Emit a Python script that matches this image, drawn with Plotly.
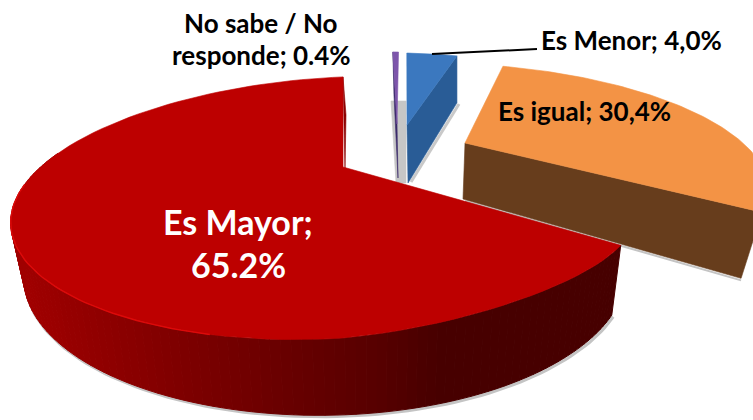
import math
import plotly.graph_objects as go

# ---- data (clockwise from the top) ----
categories = ["Es Menor", "Es igual", "Es Mayor", "No sabe / No responde"]
values = [4.0, 30.4, 65.2, 0.4]
value_labels = ["4,0%", "30,4%", "65.2%", "0.4%"]

# ---- projection of the pie into the picture ----
ROT = 1.44
A, B, K, M = 296.0, 118.0, 0.31, 0.06
FONT = "Lato"

# apex, screen affine (p,q,r,t), bottom offset (dx,dy), bottom scale (sx,sy)
geom = {
    "Es Mayor": dict(ax=343, ay=167, aff=(1, 0, 0, 1), off=(1, 64), sc=(0.964, 1.075)),
    "Es igual": dict(ax=465, ay=143, aff=(0.994, 0.268, -0.001, 0.888), off=(-2, 56), sc=(0.936, 1.145)),
    "Es Menor": dict(ax=407, ay=125, aff=(0.895, 0.0586, 0, 0.8), off=(1, 58), sc=(0.98, 1.16)),
    "No sabe / No responde": dict(ax=397, ay=124, aff=(1, 0.046, 0, 0.8), off=(1, 54), sc=(0.98, 1.16)),
}
colors = {
    "Es Mayor": ("#bd0000", "#470000"),
    "Es igual": ("#f39345", "#673d1c"),
    "Es Menor": ("#3b78bf", "#295c96"),
    "No sabe / No responde": ("#7d55ab", "#3a2a6a"),
}

spans = {}
start = ROT
for c, v in zip(categories, values):
    sweep = 360.0 * v / sum(values)
    spans[c] = (start, start + sweep)
    start += sweep


def rim(theta):
    t = math.radians(theta)
    X, Y = math.sin(t), math.cos(t)
    den = 1 + K * Y + M * X
    return A * X / den, -B * Y / den


def project(c, theta):
    g = geom[c]
    dx, dy = rim(theta)
    p, q, r, s = g["aff"]
    return g["ax"] + p * dx + q * dy, g["ay"] + r * dx + s * dy


def top(c, theta):
    # the top face of the large slice is slightly warped in the original picture
    x, y = project(c, theta)
    if c == "Es Mayor":
        a = spans[c][0]
        X = math.sin(math.radians(theta))
        if X < 0:
            y += 13 * abs(X)
        elif a < theta < 180:
            y -= 8 * math.sin(math.pi * (theta - a) / (180 - a))
    return x, y


def bottom(c, theta):
    g = geom[c]
    x, y = project(c, theta)
    return (g["ax"] + g["off"][0] + (x - g["ax"]) * g["sc"][0],
            g["ay"] + g["off"][1] + (y - g["ay"]) * g["sc"][1])


def arange(a, b, n):
    return [a + (b - a) * i / n for i in range(n + 1)]


fig = go.Figure()


def poly(pts, color, lw=0.6):
    fig.add_trace(go.Scatter(
        x=[p[0] for p in pts] + [pts[0][0]], y=[p[1] for p in pts] + [pts[0][1]],
        mode="lines", fill="toself", fillcolor=color,
        line=dict(color=color, width=lw), hoverinfo="skip", showlegend=False))


def stroke(pts, color, w):
    fig.add_trace(go.Scatter(
        x=[p[0] for p in pts], y=[p[1] for p in pts], mode="lines",
        line=dict(color=color, width=w), hoverinfo="skip", showlegend=False))


def face(c):
    a, b = spans[c]
    g = geom[c]
    return [(g["ax"], g["ay"])] + [top(c, t) for t in arange(a, b, 90)]


def cut(c, theta):
    g = geom[c]
    return [(g["ax"], g["ay"]), top(c, theta), bottom(c, theta),
            (g["ax"] + g["off"][0], g["ay"] + g["off"][1])]


# grey shadow behind the two narrow slices
poly([(391, 101), (406, 101), (406, 183), (396, 183)], "#c6c6c6")

# Es igual
c = "Es igual"
bx, by = bottom(c, spans[c][1])
stroke([(465, 201), (bx, by + 2)], "#c4c4c4", 2)
poly(cut(c, spans[c][1]), colors[c][1])
poly(face(c), colors[c][0])

# Es Menor
c = "Es Menor"
stroke([(459, 104), (411, 182)], "#c9c9c9", 3)
poly(cut(c, spans[c][1]), colors[c][1])
poly(face(c), colors[c][0])

# No sabe
c = "No sabe / No responde"
poly(cut(c, spans[c][0]), colors[c][1])
poly(face(c), colors[c][0])

# Es Mayor: shadow, shaded outer wall, back sliver, top
c = "Es Mayor"
a, b = spans[c]
wall_angles = arange(a, 283, 110)
stroke([(x + 1.5, y + 1.5) for x, y in (bottom(c, t) for t in wall_angles)], "#c4c4c4", 3)
g = geom[c]
poly([top(c, b), (top(c, b)[0] + 3, top(c, b)[1] + 38), (g["ax"] + 2, g["ay"] + 4)], "#8c0000")


def shade(x):
    stops = [(20, (160, 0, 0)), (150, (132, 0, 0)), (280, (105, 0, 0)),
             (390, (84, 0, 0)), (440, (71, 0, 0)), (700, (71, 0, 0))]
    for (x0, c0), (x1, c1) in zip(stops, stops[1:]):
        if x <= x1:
            f = max(0, (x - x0) / (x1 - x0))
            return "rgb(%d,%d,%d)" % tuple(round(u + (v - u) * f) for u, v in zip(c0, c1))
    return "rgb(71,0,0)"


for t0, t1 in zip(wall_angles, wall_angles[1:]):
    p0, p1 = top(c, t0), top(c, t1)
    q0, q1 = bottom(c, t0), bottom(c, t1)
    poly([p0, p1, q1, q0], shade((p0[0] + p1[0]) / 2), 1)
poly(face(c), colors[c][0])
stroke([top(c, t) for t in arange(198, 268, 50)], "#dc0a0a", 1.4)

# leader line of the small slice
stroke([(432, 54), (537, 49)], "#000000", 2)


def label(x, y, text, size, color="#000000"):
    fig.add_annotation(x=x, y=y, text=text, showarrow=False, xanchor="center", yanchor="middle",
                       font=dict(family=FONT, size=size, color=color))


nb = "<b>%s</b>"
label(261, 23, nb % "No sabe / No", 26)
label(261, 55, nb % ("responde; " + value_labels[3]), 26)
label(631, 40, nb % ("Es Menor; " + value_labels[0]), 26)
label(584, 111, nb % ("Es igual; " + value_labels[1]), 26)
label(238, 221, nb % "Es Mayor;", 34, "#ffffff")
label(238, 264, nb % value_labels[2], 34, "#ffffff")

fig.update_xaxes(range=[0, 753], visible=False, fixedrange=True)
fig.update_yaxes(range=[420, 0], visible=False, fixedrange=True)
fig.update_layout(width=753, height=420, margin=dict(l=0, r=0, t=0, b=0),
                  paper_bgcolor="#ffffff", plot_bgcolor="#ffffff", showlegend=False)
fig.write_html("out.html", config={"displayModeBar": False},
               post_script="document.body.style.margin='0';document.documentElement.style.overflow='hidden';")
